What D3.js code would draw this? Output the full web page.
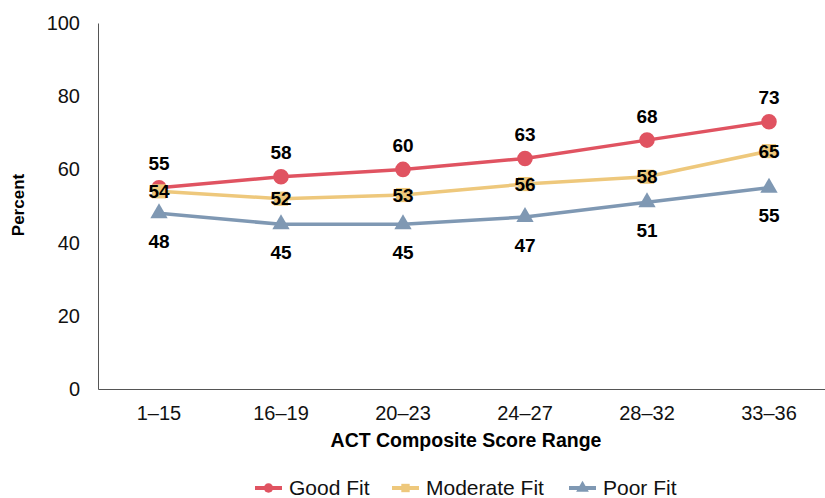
<!DOCTYPE html>
<html>
<head>
<meta charset="utf-8">
<script src="https://cdn.jsdelivr.net/npm/d3@7"></script>
<style>
  body { margin: 0; background: #fff; }
  text { font-family: "Liberation Sans", Arial, sans-serif; }
</style>
</head>
<body>
<svg id="chart" width="825" height="498"></svg>
<script>
// chart data
var categories = ["1\u201315", "16\u201319", "20\u201323", "24\u201327", "28\u201332", "33\u201336"];
var goodFit = [55, 58, 60, 63, 68, 73];
var moderateFit = [54, 52, 53, 56, 58, 65];
var poorFit = [48, 45, 45, 47, 51, 55];
var yTicks = [0, 20, 40, 60, 80, 100];

var series = [
    { name: "Good Fit", values: goodFit, color: "#e05361", shape: d3.symbolCircle, size: 190, labelDy: -24 },
    { name: "Moderate Fit", values: moderateFit, color: "#eec87c", shape: d3.symbolSquare, size: 200, labelDy: 0 },
    { name: "Poor Fit", values: poorFit, color: "#7f98b3", shape: d3.symbolTriangle, size: 130, labelDy: 28 }
];

var svg = d3.select("#chart");
var margin = { left: 98, right: 830, top: 23, bottom: 389 };

var x = d3.scaleBand().domain(categories).range([margin.left, margin.right]);
var y = d3.scaleLinear().domain([0, 100]).range([margin.bottom, margin.top]);

// axes
var yAxis = svg.append("g")
    .attr("transform", "translate(" + margin.left + ",0)")
    .call(d3.axisLeft(y).tickValues(yTicks).tickSize(0).tickPadding(18));
yAxis.select(".domain").attr("stroke", "#555");
yAxis.selectAll("text").attr("font-size", 20).attr("fill", "#111");

var xAxis = svg.append("g")
    .attr("transform", "translate(0," + margin.bottom + ")")
    .call(d3.axisBottom(x).tickSize(0).tickPadding(17));
xAxis.select(".domain").attr("stroke", "#555");
xAxis.selectAll("text").attr("font-size", 20).attr("fill", "#111");

svg.append("text")
    .attr("transform", "translate(24,205) rotate(-90)")
    .attr("text-anchor", "middle")
    .attr("font-size", 17)
    .attr("font-weight", "bold")
    .text("Percent");

svg.append("text")
    .attr("x", 466).attr("y", 447)
    .attr("text-anchor", "middle")
    .attr("font-size", 19.5)
    .attr("font-weight", "bold")
    .text("ACT Composite Score Range");

var cx = function (d, i) { return x(categories[i]) + x.bandwidth() / 2; };

var line = d3.line()
    .x(cx)
    .y(function (d) { return y(d); });

series.forEach(function (s) {
    var g = svg.append("g");
    g.append("path")
        .datum(s.values)
        .attr("d", line)
        .attr("fill", "none")
        .attr("stroke", s.color)
        .attr("stroke-width", 3.5);
    g.selectAll("path.marker")
        .data(s.values)
        .enter().append("path")
        .attr("class", "marker")
        .attr("transform", function (d, i) { return "translate(" + cx(d, i) + "," + y(d) + ")"; })
        .attr("d", d3.symbol().type(s.shape).size(s.size))
        .attr("fill", s.color);
});

series.forEach(function (s) {
    svg.append("g").selectAll("text")
        .data(s.values)
        .enter().append("text")
        .attr("x", function (d, i) { return cx(d, i); })
        .attr("y", function (d) { return y(d) + s.labelDy; })
        .attr("dy", "0.35em")
        .attr("text-anchor", "middle")
        .attr("font-size", 19)
        .attr("font-weight", "bold")
        .attr("fill", "#000")
        .text(function (d) { return d; });
});

// legend
var legendX = [255, 392, 569];
var legend = svg.append("g");
series.forEach(function (s, i) {
    var lg = legend.append("g").attr("transform", "translate(" + legendX[i] + ",488)");
    lg.append("line").attr("x1", 0).attr("x2", 27)
        .attr("stroke", s.color).attr("stroke-width", 4);
    lg.append("path")
        .attr("transform", "translate(13.5,0)")
        .attr("d", d3.symbol().type(s.shape).size(70))
        .attr("fill", s.color);
    lg.append("text").attr("x", 34).attr("dy", "0.35em")
        .attr("font-size", 21).attr("fill", "#111")
        .text(s.name);
});
</script>
</body>
</html>
